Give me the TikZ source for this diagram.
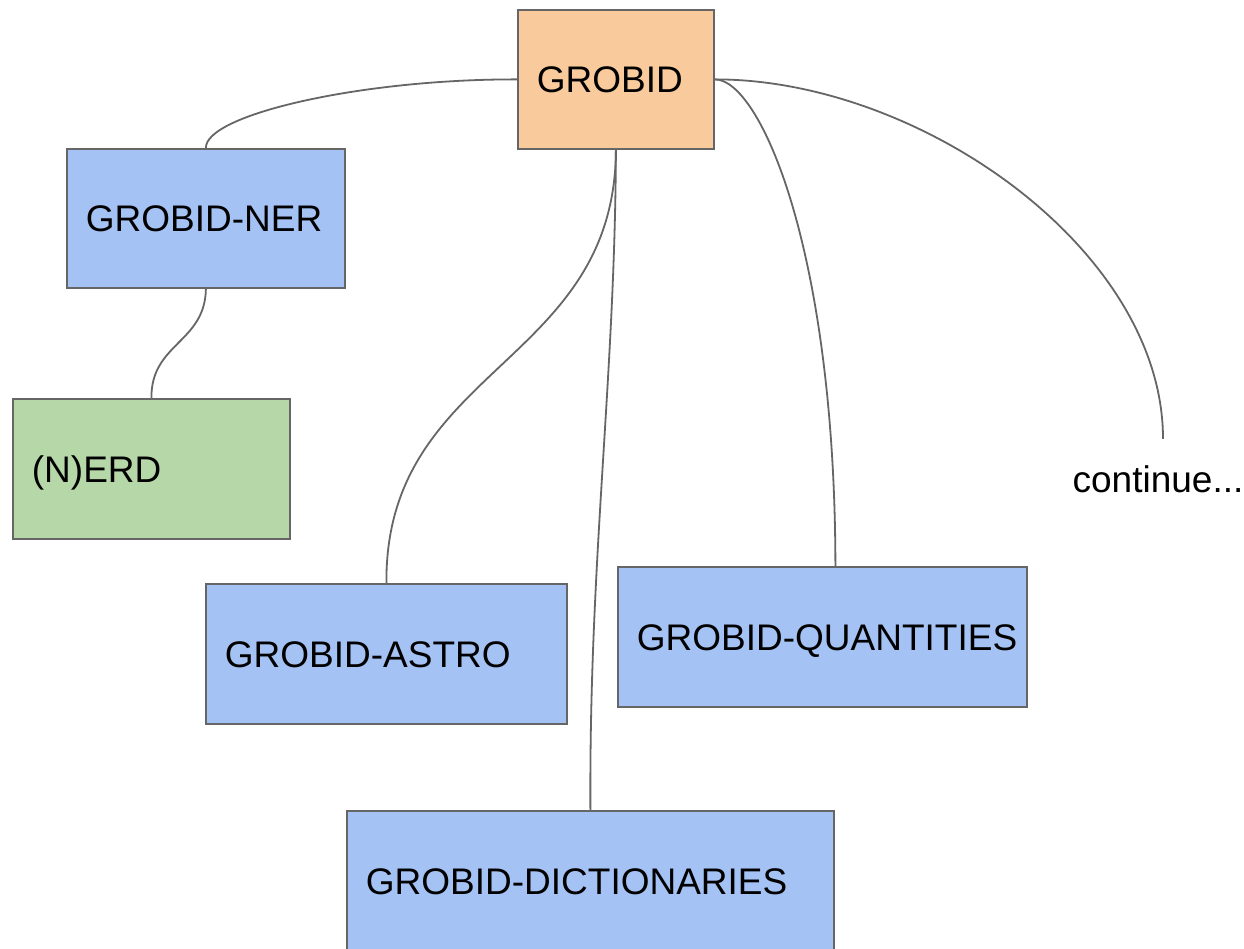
\documentclass[tikz,border=0pt]{standalone}
\usepackage{fontspec}
\setmainfont{Liberation Sans}
\definecolor{linegray}{HTML}{666666}
\definecolor{orangefill}{HTML}{F9CB9C}
\definecolor{bluefill}{HTML}{A4C2F4}
\definecolor{greenfill}{HTML}{B6D7A8}
\begin{document}
\begin{tikzpicture}[x=1pt,y=-1pt,
  box/.style={draw=linegray, line width=1.8pt, anchor=north west, inner xsep=19pt, inner ysep=0pt,
    text height=27pt, text depth=0pt, align=left, font=\fontsize{37}{44}\selectfont},
  conn/.style={draw=linegray, line width=1.8pt},
  lbl/.style={font=\fontsize{37}{44}\selectfont, text height=27pt, text depth=0pt, inner xsep=0pt, inner ysep=26.5pt}]
\useasboundingbox (0,0) rectangle (1244,949);
\fill[white] (0,0) rectangle (1244,949);
\node[box, fill=orangefill, text width=158pt, minimum height=139pt] (grobid) at (517,9) {GROBID};
\node[box, fill=bluefill, text width=240pt, minimum height=139pt] (ner) at (66,148) {GROBID-NER};
\node[box, fill=greenfill, text width=239pt, minimum height=140pt] (erd) at (12,398) {(N)ERD};
\node[box, fill=bluefill, text width=323pt, minimum height=140pt] (astro) at (205,583) {GROBID-ASTRO};
\node[box, fill=bluefill, text width=371pt, minimum height=140pt] (quant) at (617,566) {\mbox{GROBID-QUANTITIES}};
\node[box, fill=bluefill, text width=449pt, minimum height=140pt] (dict) at (346,810) {GROBID-DICTIONARIES};
\node[lbl] (cont) at (1158,479) {continue...};
\draw[conn] (ner.north) .. controls (205,115) and (360,79) .. (grobid.west);
\draw[conn] (ner.south) .. controls (205,343) and (151,343) .. (erd.north);
\draw[conn] (grobid.south) .. controls (615,366) and (385,366) .. (astro.north);
\draw[conn] (grobid.south) .. controls (615,380) and (589,560) .. (dict.north);
\draw[conn] (grobid.east) .. controls (760,79) and (835,250) .. ([xshift=13pt]quant.north);
\draw[conn] (grobid.east) .. controls (920,79) and (1163,250) .. ([xshift=5pt]cont.north);
\end{tikzpicture}
\end{document}
